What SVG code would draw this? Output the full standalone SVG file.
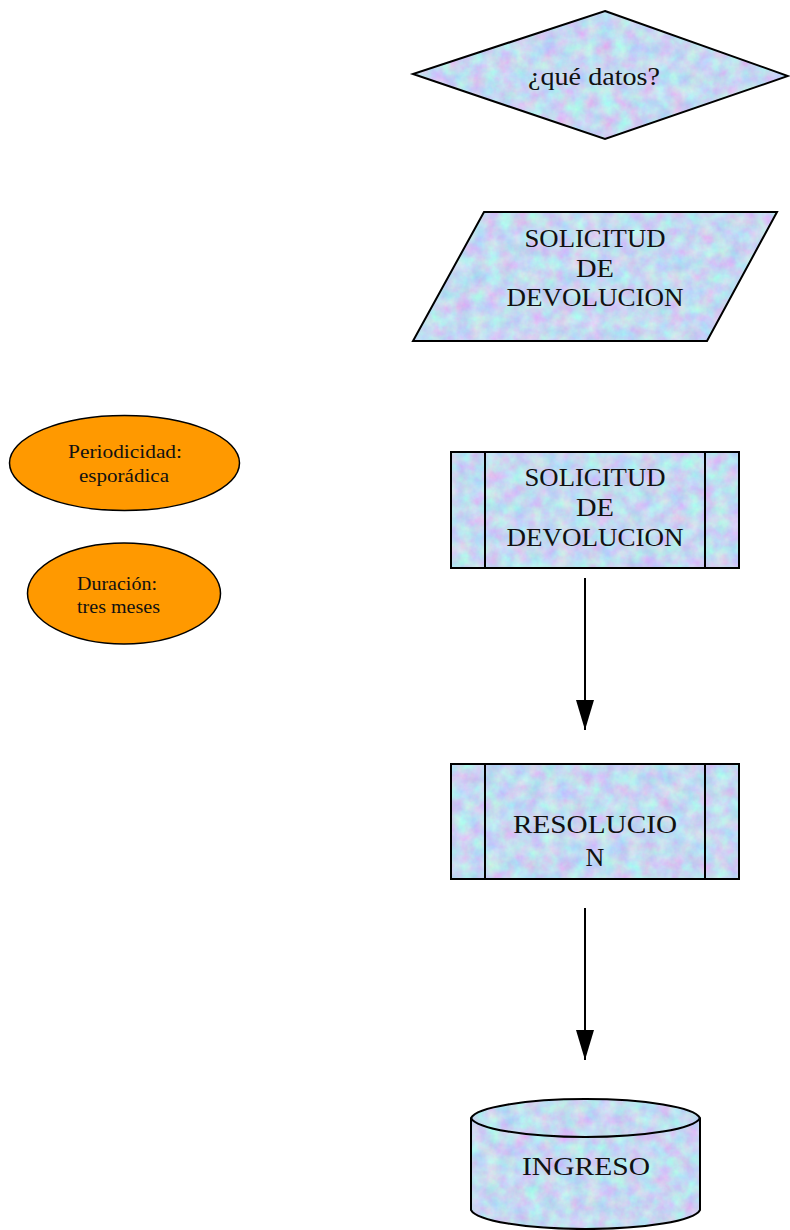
<svg xmlns="http://www.w3.org/2000/svg" width="790" height="1230" viewBox="0 0 790 1230">
  <defs>
    <!-- pale blue/pink tissue texture used as the fill of the flow shapes -->
    <filter id="tissue" x="0" y="0" width="100%" height="100%" color-interpolation-filters="sRGB">
      <feTurbulence type="fractalNoise" baseFrequency="0.07" numOctaves="4" seed="7" result="noise"/>
      <feColorMatrix in="noise" type="matrix" result="tint"
        values="0.32 0 0 0 0.61
                -0.18 0.3 0 0 0.79
                0 -0.05 0.1 0 0.92
                0 0 0 0 1"/>
      <feComposite in="tint" in2="SourceGraphic" operator="in"/>
    </filter>
    <marker id="arrow" viewBox="0 0 30 18" refX="30" refY="9" markerWidth="30" markerHeight="18" markerUnits="userSpaceOnUse" orient="auto">
      <path d="M0,0 L30,9 L0,18 z" fill="#000"/>
    </marker>
    <style>
      .paper { fill: #000; stroke: none; filter: url(#tissue); }
      .edge { fill: none; stroke: #000; stroke-width: 2; stroke-linejoin: miter; }
      .orange { fill: #ff9900; stroke: #000; stroke-width: 1.5; }
      .big { font-family: "Liberation Serif", "Times New Roman", serif; font-size: 26px; fill: #111; text-anchor: middle; }
      .small { font-family: "Liberation Serif", "Times New Roman", serif; font-size: 19px; fill: #111; text-anchor: middle; }
      .link { stroke: #000; stroke-width: 2; fill: none; }
    </style>
  </defs>

  <rect width="790" height="1230" fill="#fff"/>

  <!-- decision -->
  <g id="node-datos">
    <polygon class="paper" points="605,11 788,76 605,139 413,74"/>
    <polygon class="edge" points="605,11 788,76 605,139 413,74"/>
    <text class="big" x="594" y="85" textLength="132" lengthAdjust="spacingAndGlyphs">¿qué datos?</text>
  </g>

  <!-- input / output -->
  <g id="node-solicitud-io">
    <polygon class="paper" points="484,212 777,212 707,341 413,341"/>
    <polygon class="edge" points="484,212 777,212 707,341 413,341"/>
    <text class="big" x="595" y="247" textLength="141" lengthAdjust="spacingAndGlyphs">SOLICITUD</text>
    <text class="big" x="595" y="277" textLength="38" lengthAdjust="spacingAndGlyphs">DE</text>
    <text class="big" x="595" y="306" textLength="177" lengthAdjust="spacingAndGlyphs">DEVOLUCION</text>
  </g>

  <!-- notes -->
  <g id="note-periodicidad">
    <ellipse class="orange" cx="124.5" cy="463" rx="115" ry="47.5"/>
    <text class="small" x="125" y="458" textLength="114" lengthAdjust="spacingAndGlyphs">Periodicidad:</text>
    <text class="small" x="124" y="482" textLength="90" lengthAdjust="spacingAndGlyphs">esporádica</text>
  </g>

  <g id="note-duracion">
    <ellipse class="orange" cx="124" cy="593.5" rx="96.5" ry="50.5"/>
    <text class="small" x="117" y="590" textLength="80" lengthAdjust="spacingAndGlyphs">Duración:</text>
    <text class="small" x="118.5" y="613" textLength="83" lengthAdjust="spacingAndGlyphs">tres meses</text>
  </g>

  <!-- predefined process -->
  <g id="node-solicitud-proc">
    <rect class="paper" x="451" y="452" width="288" height="116"/>
    <rect class="edge" x="451" y="452" width="288" height="116"/>
    <line class="edge" x1="485" y1="452" x2="485" y2="568"/>
    <line class="edge" x1="705" y1="452" x2="705" y2="568"/>
    <text class="big" x="595" y="486" textLength="141" lengthAdjust="spacingAndGlyphs">SOLICITUD</text>
    <text class="big" x="595" y="516" textLength="38" lengthAdjust="spacingAndGlyphs">DE</text>
    <text class="big" x="595" y="546" textLength="177" lengthAdjust="spacingAndGlyphs">DEVOLUCION</text>
  </g>

  <g id="node-resolucion">
    <rect class="paper" x="451" y="764" width="288" height="115"/>
    <rect class="edge" x="451" y="764" width="288" height="115"/>
    <line class="edge" x1="485" y1="764" x2="485" y2="879"/>
    <line class="edge" x1="705" y1="764" x2="705" y2="879"/>
    <text class="big" x="595" y="833" textLength="164" lengthAdjust="spacingAndGlyphs">RESOLUCIO</text>
    <text class="big" x="595" y="866">N</text>
  </g>

  <!-- stored data -->
  <g id="node-ingreso">
    <path class="paper" d="M471,1118 A115,21 0 0 1 700,1118 L700,1210 A115,21 0 0 1 471,1210 Z"/>
    <path class="edge" d="M471,1118 A115,21 0 0 1 700,1118 L700,1210 A115,21 0 0 1 471,1210 Z"/>
    <path class="edge" d="M471,1118 A115,21 0 0 0 700,1118"/>
    <text class="big" x="586" y="1175" textLength="128" lengthAdjust="spacingAndGlyphs">INGRESO</text>
  </g>

  <g id="connectors">
    <line class="link" x1="585" y1="578" x2="585" y2="730" marker-end="url(#arrow)"/>
    <line class="link" x1="585" y1="908" x2="585" y2="1060" marker-end="url(#arrow)"/>
  </g>
</svg>
